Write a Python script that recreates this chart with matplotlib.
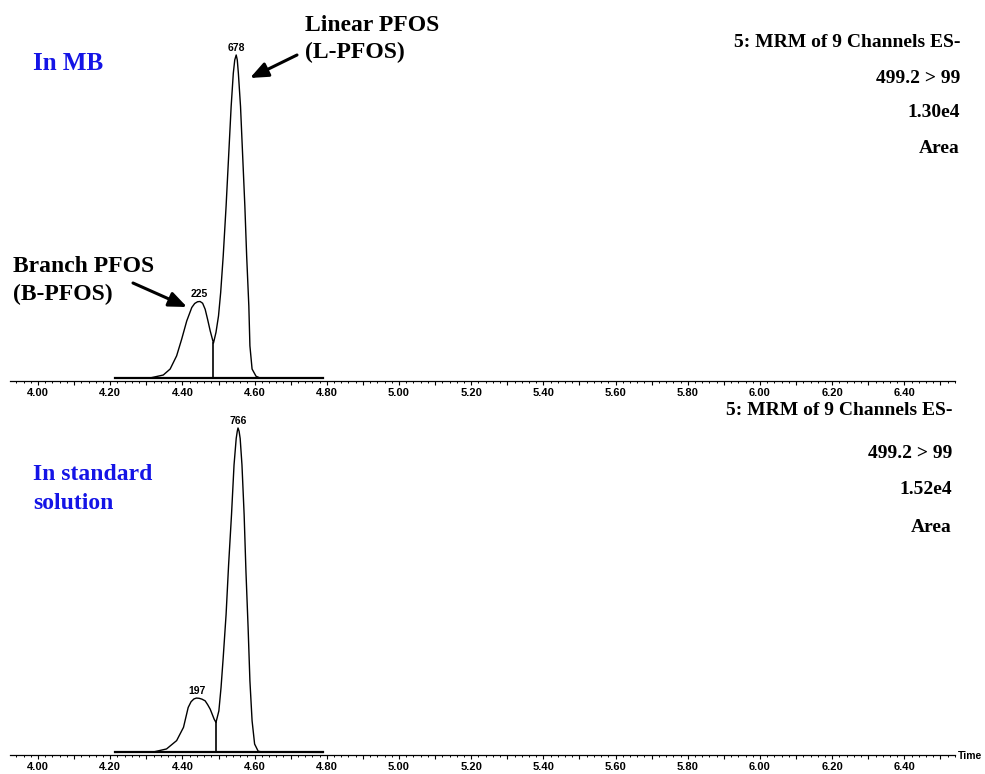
import matplotlib
matplotlib.use("Agg")
import matplotlib.pyplot as plt
from matplotlib.ticker import MultipleLocator, FuncFormatter

# MRM trace 499.2 > 99, sample in MB (top panel)
mb_time = [4.213, 4.310, 4.347, 4.366, 4.384, 4.398, 4.412, 4.426, 4.434, 4.442,
           4.449, 4.456, 4.463, 4.470, 4.477, 4.486, 4.493, 4.500, 4.506, 4.513,
           4.521, 4.528, 4.535, 4.541, 4.545, 4.549, 4.552, 4.555, 4.561, 4.567,
           4.573, 4.578, 4.584, 4.587, 4.593, 4.604, 4.615, 4.789]
mb_counts = [30, 40, 160, 400, 930, 1600, 2330, 2870, 3030, 3100,
             3110, 3040, 2800, 2380, 1930, 1440, 1870, 2530, 3470, 4930,
             6930, 8930, 10930, 12270, 12800, 13000, 12800, 12270, 10930, 8930,
             6930, 4930, 2930, 1330, 400, 110, 40, 30]
mb_valley = (4.486, 1440)
mb_areas = ['225', '678']
mb_apex = [(4.447, 3110), (4.549, 13000)]
mb_info = ['5: MRM of 9 Channels ES-', '499.2 > 99', '1.30e4', 'Area']

# same trace, standard solution (bottom panel)
st_time = [4.213, 4.320, 4.356, 4.384, 4.403, 4.416, 4.424, 4.432, 4.439, 4.446,
           4.454, 4.463, 4.470, 4.477, 4.488, 4.493, 4.501, 4.507, 4.513, 4.521,
           4.528, 4.536, 4.543, 4.549, 4.552, 4.554, 4.557, 4.560, 4.565, 4.571,
           4.576, 4.582, 4.587, 4.593, 4.600, 4.610, 4.625, 4.789]
st_counts = [30, 50, 190, 580, 1200, 2130, 2400, 2530, 2570, 2560,
             2520, 2440, 2260, 2050, 1580, 1430, 1970, 3060, 4460, 6480,
             8810, 11140, 13470, 14710, 15050, 15200, 15050, 14710, 13470, 11140,
             8500, 5860, 3370, 1510, 420, 80, 40, 30]
st_valley = (4.493, 1430)
st_areas = ['197', '766']
st_apex = [(4.440, 2570), (4.554, 15200)]
st_info = ['5: MRM of 9 Channels ES-', '499.2 > 99', '1.52e4', 'Area']

W, H = 985, 774
SERIF = 'Liberation Serif'
SANS = 'Liberation Sans'


def fx(px):
    return px / W


def fy(py):
    return 1 - py / H


def tick_fmt(v, pos):
    k = int(round(v * 10))
    if k % 2:
        return ''
    return '%.2f' % v


def setup_axis(ax, ymin, ymax):
    ax.set_xlim(3.9224, 6.5402)
    ax.set_ylim(ymin, ymax)
    for s in ['top', 'left', 'right']:
        ax.spines[s].set_visible(False)
    ax.spines['bottom'].set_linewidth(0.9)
    ax.set_yticks([])
    ax.xaxis.set_major_locator(MultipleLocator(0.1))
    ax.xaxis.set_minor_locator(MultipleLocator(0.02))
    ax.xaxis.set_major_formatter(FuncFormatter(tick_fmt))
    ax.tick_params(axis='x', which='major', length=3.2, width=0.8, pad=2.0)
    ax.tick_params(axis='x', which='minor', length=1.7, width=0.7)
    for lab in ax.get_xticklabels():
        lab.set_fontfamily(SANS)
        lab.set_fontsize(8)
        lab.set_fontweight('bold')
    ax.patch.set_visible(False)


def draw_trace(ax, t, c, valley, apex, areas):
    ax.plot(t, c, color='black', lw=1.0, clip_on=False)
    ax.plot([t[0], t[-1]], [c[0], c[-1]], color='black', lw=1.6, clip_on=False)
    ax.plot([valley[0], valley[0]], [c[0], valley[1]], color='black', lw=1.2)
    for (x, y), a in zip(apex, areas):
        ax.annotate(a, (x, y), xytext=(0, 1.5), textcoords='offset points',
                    ha='center', va='bottom', fontsize=7.5, fontweight='bold',
                    family=SANS, annotation_clip=False)


fig = plt.figure(figsize=(W / 100, H / 100), dpi=100)

ax1 = fig.add_axes([fx(10), fy(381), fx(945), 341 / H])
setup_axis(ax1, -80, 13601)
draw_trace(ax1, mb_time, mb_counts, mb_valley, mb_apex, mb_areas)

ax2 = fig.add_axes([fx(10), fy(755), fx(945), 340 / H])
setup_axis(ax2, -93, 15808)
draw_trace(ax2, st_time, st_counts, st_valley, st_apex, st_areas)

# channel info, right aligned
for txt, yb in zip(mb_info, [47, 83, 117, 153]):
    fig.text(fx(960), fy(yb), txt, ha='right', va='baseline', family=SERIF,
             fontweight='bold', fontsize=14)
for txt, yb in zip(st_info, [415, 458, 494, 532]):
    fig.text(fx(952), fy(yb), txt, ha='right', va='baseline', family=SERIF,
             fontweight='bold', fontsize=14)

# sample labels
blue = '#1414e6'
fig.text(fx(33), fy(70), 'In MB', color=blue, family=SERIF, fontweight='bold',
         fontsize=18, va='baseline')
fig.text(fx(33), fy(480), 'In standard', color=blue, family=SERIF,
         fontweight='bold', fontsize=17, va='baseline')
fig.text(fx(33), fy(509), 'solution', color=blue, family=SERIF,
         fontweight='bold', fontsize=17, va='baseline')

# peak names with arrows
fig.text(fx(305), fy(31), 'Linear PFOS', family=SERIF, fontweight='bold',
         fontsize=17, va='baseline')
fig.text(fx(305), fy(58), '(L-PFOS)', family=SERIF, fontweight='bold',
         fontsize=17, va='baseline')
fig.text(fx(13), fy(272), 'Branch PFOS', family=SERIF, fontweight='bold',
         fontsize=17, va='baseline')
fig.text(fx(13), fy(300), '(B-PFOS)', family=SERIF, fontweight='bold',
         fontsize=17, va='baseline')

arrow = dict(arrowstyle='-|>,head_length=0.6,head_width=0.25', color='black',
             lw=2.2, mutation_scale=18, shrinkA=0, shrinkB=0)
ax1.annotate('', xy=(fx(250), fy(78)), xycoords='figure fraction',
             xytext=(fx(297), fy(55)), textcoords='figure fraction',
             arrowprops=arrow, annotation_clip=False)
ax1.annotate('', xy=(fx(187), fy(307)), xycoords='figure fraction',
             xytext=(fx(133), fy(283)), textcoords='figure fraction',
             arrowprops=arrow, annotation_clip=False)

fig.text(fx(958), fy(756), 'Time', family=SANS, fontweight='bold', fontsize=7.5,
         va='center', ha='left')

fig.savefig('out.png', dpi=100)
